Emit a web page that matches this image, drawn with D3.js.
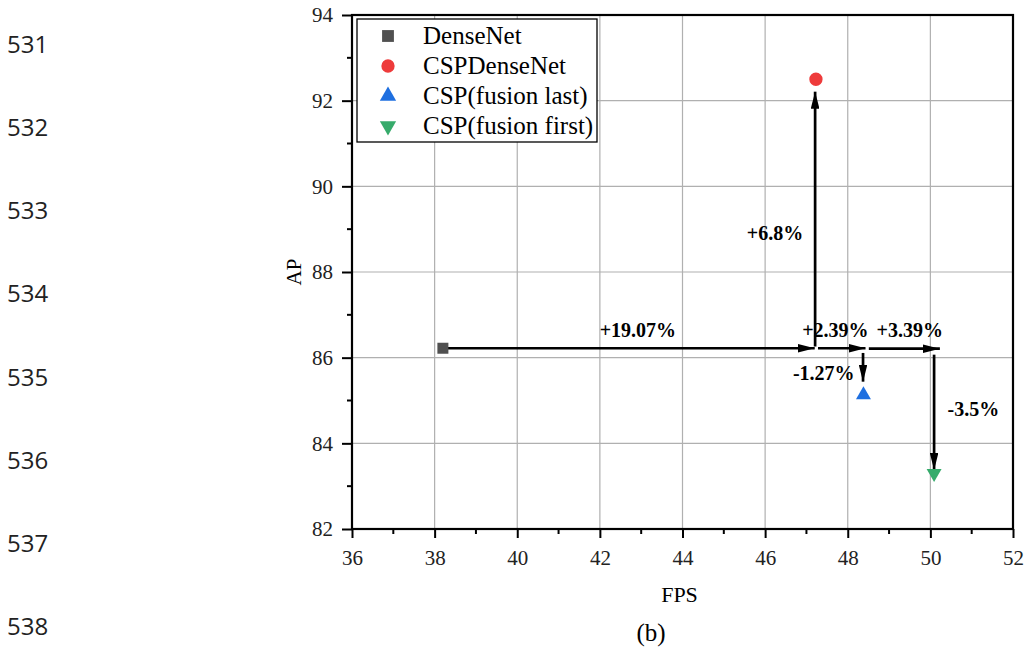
<!DOCTYPE html>
<html>
<head>
<meta charset="utf-8">
<script src="https://cdn.jsdelivr.net/npm/d3@7"></script>
<style>
  body { margin: 0; background: #fff; }
  svg { display: block; }
  .serif, .axis text { font-family: "Liberation Serif", "Times New Roman", "DejaVu Serif", serif; }
  .axis text { font-size: 21px; fill: #222; }
  .axis line { stroke: #000; stroke-width: 2px; }
  .axis .domain { display: none; }
  .ln { font-family: "Open Sans", "Noto Sans", sans-serif; }
</style>
</head>
<body>
<svg id="chart" width="1026" height="652"></svg>
<script>
// models and their (FPS, AP)
var models = ['DenseNet', 'CSPDenseNet', 'CSP(fusion last)', 'CSP(fusion first)']
var fps = [38.2, 47.23, 48.38, 50.09]
var ap = [86.22, 92.5, 85.13, 83.3]
var colors = ['#505050', '#ee3b3b', '#1e6fe0', '#36ab6b']
var shapes = [d3.symbolSquare, d3.symbolCircle, d3.symbolTriangle, d3.symbolTriangle]

// arrows: from (fps, ap) to (fps, ap)
var arrowFrom = [[38.3, 86.22], [47.21, 86.26], [47.28, 86.22], [48.51, 86.21], [48.37, 86.11], [50.09, 86.07]]
var arrowTo = [[47.2, 86.22], [47.21, 92.21], [48.43, 86.22], [50.23, 86.21], [48.37, 85.44], [50.09, 83.38]]
var notes = ['+19.07%', '+6.8%', '+2.39%', '+3.39%', '-1.27%', '-3.5%']
var notePos = [[42.92, 86.49], [46.24, 88.75], [47.7, 86.49], [49.5, 86.49], [47.42, 85.48], [51.04, 84.63]]

var xTicks = [36, 38, 40, 42, 44, 46, 48, 50, 52]
var yTicks = [82, 84, 86, 88, 90, 92, 94]
var lineNumbers = ['531', '532', '533', '534', '535', '536', '537', '538']

var svg = d3.select('#chart')
var margin = {left: 352, right: 13, top: 15, bottom: 123}
var w = 1026 - margin.left - margin.right,
    h = 652 - margin.top - margin.bottom

var x = d3.scaleLinear().domain([36, 52]).range([margin.left, margin.left + w])
var y = d3.scaleLinear().domain([82, 94]).range([margin.top + h, margin.top])

// line numbers on the page margin
svg.selectAll('.ln')
    .data(lineNumbers)
  .enter().append('text')
    .attr('class', 'ln')
    .attr('x', 7)
    .attr('y', function(d, i) { return 53 + i * 83.14 })
    .style('font-size', '24px')
    .attr('fill', '#222')
    .text(function(d) { return d })

// grid
svg.append('g').selectAll('line')
    .data(xTicks.slice(1, -1))
  .enter().append('line')
    .attr('x1', x).attr('x2', x)
    .attr('y1', y(82)).attr('y2', y(94))
    .attr('stroke', '#b0b0b0').attr('stroke-width', 1.2)
svg.append('g').selectAll('line')
    .data(yTicks.slice(1, -1))
  .enter().append('line')
    .attr('y1', y).attr('y2', y)
    .attr('x1', x(36)).attr('x2', x(52))
    .attr('stroke', '#b0b0b0').attr('stroke-width', 1.2)

// axes, ticks pointing out
var xAxis = d3.axisBottom(x).tickValues(xTicks).tickSizeInner(9).tickSizeOuter(0).tickPadding(12)
var yAxis = d3.axisLeft(y).tickValues(yTicks).tickSizeInner(10).tickSizeOuter(0).tickPadding(9)

svg.append('g')
    .attr('class', 'axis')
    .attr('transform', 'translate(0,' + y(82) + ')')
    .call(xAxis)
svg.append('g')
    .attr('class', 'axis')
    .attr('transform', 'translate(' + x(36) + ',0)')
    .call(yAxis)

// minor ticks
svg.append('g').selectAll('line')
    .data(d3.range(37, 52, 2))
  .enter().append('line')
    .attr('x1', x).attr('x2', x)
    .attr('y1', y(82)).attr('y2', y(82) + 5)
    .attr('stroke', '#000').attr('stroke-width', 2)
svg.append('g').selectAll('line')
    .data(d3.range(83, 94, 2))
  .enter().append('line')
    .attr('y1', y).attr('y2', y)
    .attr('x1', x(36)).attr('x2', x(36) - 5)
    .attr('stroke', '#000').attr('stroke-width', 2)

// frame
svg.append('rect')
    .attr('x', x(36)).attr('y', y(94))
    .attr('width', x(52) - x(36)).attr('height', y(82) - y(94))
    .attr('fill', 'none').attr('stroke', '#000').attr('stroke-width', 2.2)

// axis titles
svg.append('text')
    .attr('class', 'serif')
    .attr('x', (x(36) + x(52)) / 2 - 3).attr('y', 602)
    .attr('text-anchor', 'middle')
    .style('font-size', '22px')
    .text('FPS')
svg.append('text')
    .attr('class', 'serif')
    .attr('transform', 'translate(301,' + y(88) + ') rotate(-90)')
    .attr('text-anchor', 'middle')
    .style('font-size', '21px')
    .text('AP')
svg.append('text')
    .attr('class', 'serif')
    .attr('x', 651).attr('y', 641)
    .attr('text-anchor', 'middle')
    .style('font-size', '25px')
    .text('(b)')

// arrowheads
svg.append('defs').append('marker')
    .attr('id', 'head')
    .attr('viewBox', '0 0 10 10')
    .attr('refX', 10).attr('refY', 5)
    .attr('markerWidth', 6.3).attr('markerHeight', 3.2)
    .attr('markerUnits', 'strokeWidth')
    .attr('orient', 'auto')
    .attr('preserveAspectRatio', 'none')
  .append('path')
    .attr('d', 'M0,0 L10,5 L0,10 Z')
    .attr('fill', '#000')

svg.append('g').selectAll('line')
    .data(arrowFrom)
  .enter().append('line')
    .attr('x1', function(d) { return x(d[0]) })
    .attr('y1', function(d) { return y(d[1]) })
    .attr('x2', function(d, i) { return x(arrowTo[i][0]) })
    .attr('y2', function(d, i) { return y(arrowTo[i][1]) })
    .attr('stroke', '#000').attr('stroke-width', 2.7)
    .attr('marker-end', 'url(#head)')

svg.append('g').selectAll('text')
    .data(notes)
  .enter().append('text')
    .attr('class', 'serif')
    .attr('x', function(d, i) { return x(notePos[i][0]) })
    .attr('y', function(d, i) { return y(notePos[i][1]) })
    .attr('text-anchor', 'middle')
    .style('font-weight', 'bold')
    .style('font-size', '20px')
    .text(function(d) { return d })

// points
var sym = d3.symbol()
var sizes = [121, 139, 97, 97]
svg.append('g').selectAll('path')
    .data(models)
  .enter().append('path')
    .attr('transform', function(d, i) {
      return 'translate(' + x(fps[i]) + ',' + y(ap[i]) + ')' + (i == 3 ? ' rotate(180)' : '')
    })
    .attr('d', function(d, i) { return sym.type(shapes[i]).size(sizes[i])() })
    .attr('fill', function(d, i) { return colors[i] })

// legend
var lg = svg.append('g').attr('transform', 'translate(357,19)')
lg.append('rect')
    .attr('width', 240).attr('height', 123)
    .attr('fill', '#fff').attr('stroke', '#000').attr('stroke-width', 1.3)
var items = lg.selectAll('.item')
    .data(models)
  .enter().append('g')
    .attr('transform', function(d, i) { return 'translate(0,' + (17 + i * 30) + ')' })
items.append('path')
    .attr('transform', function(d, i) { return 'translate(31,0)' + (i == 3 ? ' rotate(180)' : '') })
    .attr('d', function(d, i) { return sym.type(shapes[i]).size(i == 0 ? 140 : i == 1 ? 139 : 115)() })
    .attr('fill', function(d, i) { return colors[i] })
items.append('text')
    .attr('class', 'serif')
    .attr('x', 66).attr('y', 8)
    .style('font-size', '25px')
    .text(function(d) { return d })
</script>
</body>
</html>
